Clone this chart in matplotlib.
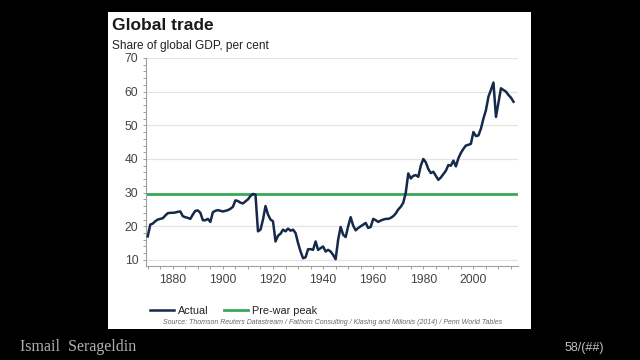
import matplotlib.pyplot as plt
from matplotlib.patches import Rectangle
from matplotlib.ticker import MultipleLocator

# share of global GDP, per cent, 1870-2016
years = list(range(1870, 2017))
trade_share = [
    17.0, 20.5, 20.8, 21.5, 22.0, 22.2, 22.4, 23.2, 23.9, 24.0,
    24.0, 24.1, 24.3, 24.4, 23.0, 22.7, 22.5, 22.2, 23.5, 24.6,
    24.7, 24.0, 21.8, 21.8, 22.2, 21.3, 24.2, 24.6, 24.8, 24.6,
    24.4, 24.6, 24.8, 25.2, 25.8, 27.7, 27.5, 27.0, 26.8, 27.4,
    28.0, 29.0, 29.6, 29.4, 18.5, 19.0, 22.0, 26.0, 23.5, 22.0,
    21.5, 15.5, 17.2, 17.8, 19.0, 18.5, 19.3, 18.7, 19.0, 18.0,
    15.0, 12.5, 10.5, 10.8, 13.2, 13.2, 13.0, 15.5, 13.0, 13.5,
    14.0, 12.5, 13.0, 12.5, 11.5, 10.2, 16.0, 19.8, 17.5, 16.8,
    20.0, 22.7, 20.2, 18.8, 19.5, 20.0, 20.5, 21.0, 19.5, 19.8,
    22.2, 21.8, 21.3, 21.7, 22.0, 22.2, 22.2, 22.5, 23.0, 23.8,
    25.0, 25.8, 27.0, 30.0, 35.7, 34.2, 35.0, 35.2, 34.7, 38.0,
    40.0, 39.0, 37.0, 35.8, 36.2, 35.0, 33.8, 34.5, 35.5, 36.5,
    38.2, 38.0, 39.5, 37.8, 40.2, 41.8, 43.0, 44.0, 44.2, 44.5,
    48.0, 46.8, 47.0, 49.0, 52.0, 54.5, 58.5, 60.5, 62.7, 52.5,
    56.8, 61.0, 60.5, 60.0, 59.0, 58.2, 57.0,
]
pre_war_peak = 29.6

x_ticks = [1880, 1900, 1920, 1940, 1960, 1980, 2000]
y_ticks = [10, 20, 30, 40, 50, 60, 70]

navy = '#15294a'
green = '#3aa85a'

plt.rcParams['font.family'] = ['Liberation Sans', 'DejaVu Sans']

fig = plt.figure(figsize=(6.4, 3.6), dpi=100, facecolor='black')

# white slide panel, kept behind the axes
fig.patches.append(Rectangle((108 / 640, 1 - 329 / 360), 423 / 640, 317 / 360,
                             transform=fig.transFigure, facecolor='white',
                             edgecolor='none', zorder=-5))

ax = fig.add_axes([146 / 640, 1 - 266 / 360, 372 / 640, 208 / 360])
ax.set_facecolor('none')

ax.plot(years, trade_share, color=navy, lw=1.8, label='Actual', zorder=3)
ax.axhline(pre_war_peak, color=green, lw=2.0, label='Pre-war peak', zorder=2)

ax.set_xlim(1869.3, 2017.8)
ax.set_ylim(8.2, 70)
ax.set_xticks(x_ticks)
ax.set_yticks(y_ticks)
ax.xaxis.set_minor_locator(MultipleLocator(5))
ax.yaxis.set_minor_locator(MultipleLocator(2))
ax.grid(axis='y', color='#e4e4e4', lw=0.9, zorder=0)
ax.set_axisbelow(True)

for s in ['top', 'right']:
    ax.spines[s].set_visible(False)
for s in ['left', 'bottom']:
    ax.spines[s].set_color('#a0a0a0')
    ax.spines[s].set_linewidth(0.8)

ax.tick_params(axis='both', which='both', direction='out', color='#a0a0a0',
               width=0.7, labelsize=8.8, labelcolor='#444444')
ax.tick_params(axis='both', which='major', length=2.5, pad=3)
ax.tick_params(axis='both', which='minor', length=2.0)

fig.text(112 / 640, 1 - 30 / 360, 'Global trade', fontsize=12.5,
         fontweight='bold', color='#1a1a1a', va='baseline')
fig.text(112 / 640, 1 - 49 / 360, 'Share of global GDP, per cent',
         fontsize=8.6, color='#222222', va='baseline')

ax.legend(loc='center left', bbox_to_anchor=(150 / 640, 1 - 311 / 360),
          bbox_transform=fig.transFigure, ncol=2, frameon=False,
          fontsize=7.8, handlelength=2.2, handletextpad=0.4,
          columnspacing=1.4, borderpad=0, borderaxespad=0,
          labelcolor='#222222')

fig.text(333 / 640, 1 - 323 / 360,
         'Source: Thomson Reuters Datastream / Fathom Consulting / Klasing and '
         'Milionis (2014) / Penn World Tables',
         fontsize=5, style='italic', color='#666666', ha='center', va='center')

fig.text(20 / 640, 1 - 347 / 360, 'Ismail  Serageldin', fontsize=11.5,
         family='Liberation Serif', color='#b0b0b0', va='center')
fig.text(565 / 640, 1 - 348 / 360, '58/(##)', fontsize=9,
         color='#c0c0c0', va='center')

fig.savefig('out.png', dpi=100, facecolor='black')
